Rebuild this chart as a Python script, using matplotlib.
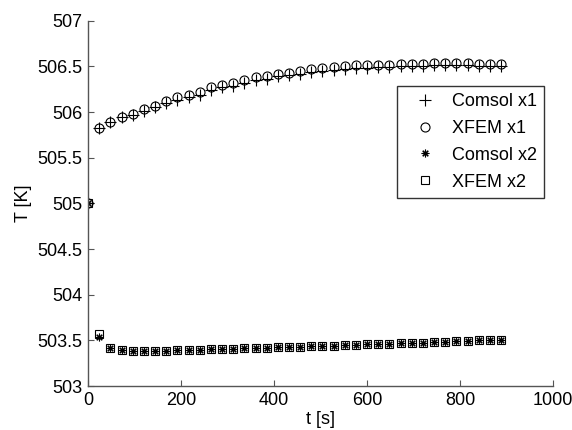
import numpy as np
import matplotlib
matplotlib.use("Agg")
import matplotlib.pyplot as plt

plt.rcParams['font.family'] = ['Liberation Sans', 'DejaVu Sans']

# time steps [s]
t = [0, 24, 48, 72, 96, 120, 144, 168, 192, 216, 240, 264, 288, 312, 336,
     360, 384, 408, 432, 456, 480, 504, 528, 552, 576, 600, 624, 648, 672,
     696, 720, 744, 768, 792, 816, 840, 864, 888]

xfem_x1 = [505.00, 505.82, 505.89, 505.95, 505.98, 506.03, 506.07, 506.12,
           506.16, 506.19, 506.22, 506.27, 506.30, 506.32, 506.35, 506.38,
           506.39, 506.42, 506.43, 506.45, 506.47, 506.48, 506.49, 506.50,
           506.51, 506.51, 506.52, 506.52, 506.53, 506.53, 506.53, 506.54,
           506.54, 506.54, 506.54, 506.53, 506.53, 506.53]

comsol_x1 = [505.00, 505.82, 505.89, 505.94, 505.97, 506.01, 506.05, 506.10,
             506.13, 506.16, 506.19, 506.24, 506.27, 506.29, 506.32, 506.35,
             506.36, 506.39, 506.40, 506.42, 506.44, 506.45, 506.46, 506.47,
             506.48, 506.48, 506.49, 506.49, 506.50, 506.50, 506.50, 506.51,
             506.51, 506.51, 506.51, 506.50, 506.50, 506.50]

xfem_x2 = [505.00, 503.57, 503.42, 503.40, 503.39, 503.39, 503.39, 503.39,
           503.40, 503.40, 503.40, 503.41, 503.41, 503.41, 503.42, 503.42,
           503.42, 503.43, 503.43, 503.43, 503.44, 503.44, 503.44, 503.45,
           503.45, 503.46, 503.46, 503.46, 503.47, 503.47, 503.47, 503.48,
           503.48, 503.49, 503.49, 503.50, 503.50, 503.51]

comsol_x2 = [505.00, 503.54, 503.42, 503.40, 503.39, 503.39, 503.39, 503.39,
             503.40, 503.40, 503.40, 503.41, 503.41, 503.41, 503.42, 503.42,
             503.42, 503.43, 503.43, 503.43, 503.44, 503.44, 503.44, 503.45,
             503.45, 503.46, 503.46, 503.46, 503.47, 503.47, 503.47, 503.48,
             503.48, 503.49, 503.49, 503.50, 503.50, 503.51]

fig = plt.figure(figsize=(5.72, 4.30), dpi=100)
ax = fig.add_axes([0.154, 0.102, 0.813, 0.850])

mkw = dict(linestyle='none', color='black', markerfacecolor='none',
           markeredgecolor='black', markeredgewidth=0.8)
ax.plot(t, comsol_x1, marker='+', markersize=8, label='Comsol x1', **mkw)
ax.plot(t, xfem_x1, marker='o', markersize=6.5, label='XFEM x1', **mkw)
ax.plot(t, comsol_x2, marker=(8, 2, 0), markersize=5.5, label='Comsol x2', **mkw)
ax.plot(t, xfem_x2, marker='s', markersize=5.5, label='XFEM x2', **mkw)

ax.set_xlim(0, 1000)
ax.set_ylim(503, 507)
ax.set_xticks([0, 200, 400, 600, 800, 1000])
ax.set_yticks([503, 503.5, 504, 504.5, 505, 505.5, 506, 506.5, 507])
ax.set_yticklabels(['503', '503.5', '504', '504.5', '505', '505.5', '506',
                    '506.5', '507'])

for s in ['top', 'right']:
    ax.spines[s].set_visible(False)
for s in ['left', 'bottom']:
    ax.spines[s].set_color('#555555')
    ax.spines[s].set_linewidth(1.0)
ax.tick_params(direction='in', length=4, width=0.8, color='#555555',
               labelsize=13)
ax.tick_params(axis='y', pad=4)
ax.tick_params(axis='x', pad=4)
ax.set_xlabel('t [s]', fontsize=13, labelpad=2)
ax.set_ylabel('T [K]', fontsize=13, labelpad=4)

leg = ax.legend(loc='upper left', bbox_to_anchor=(0.665, 0.822), fontsize=13,
                frameon=True, fancybox=False, borderpad=0.4, labelspacing=0.55,
                handletextpad=0.3, handlelength=2.3, numpoints=1,
                borderaxespad=0)
leg.get_frame().set_edgecolor('black')
leg.get_frame().set_linewidth(1.0)

fig.savefig('out.png', dpi=100)
